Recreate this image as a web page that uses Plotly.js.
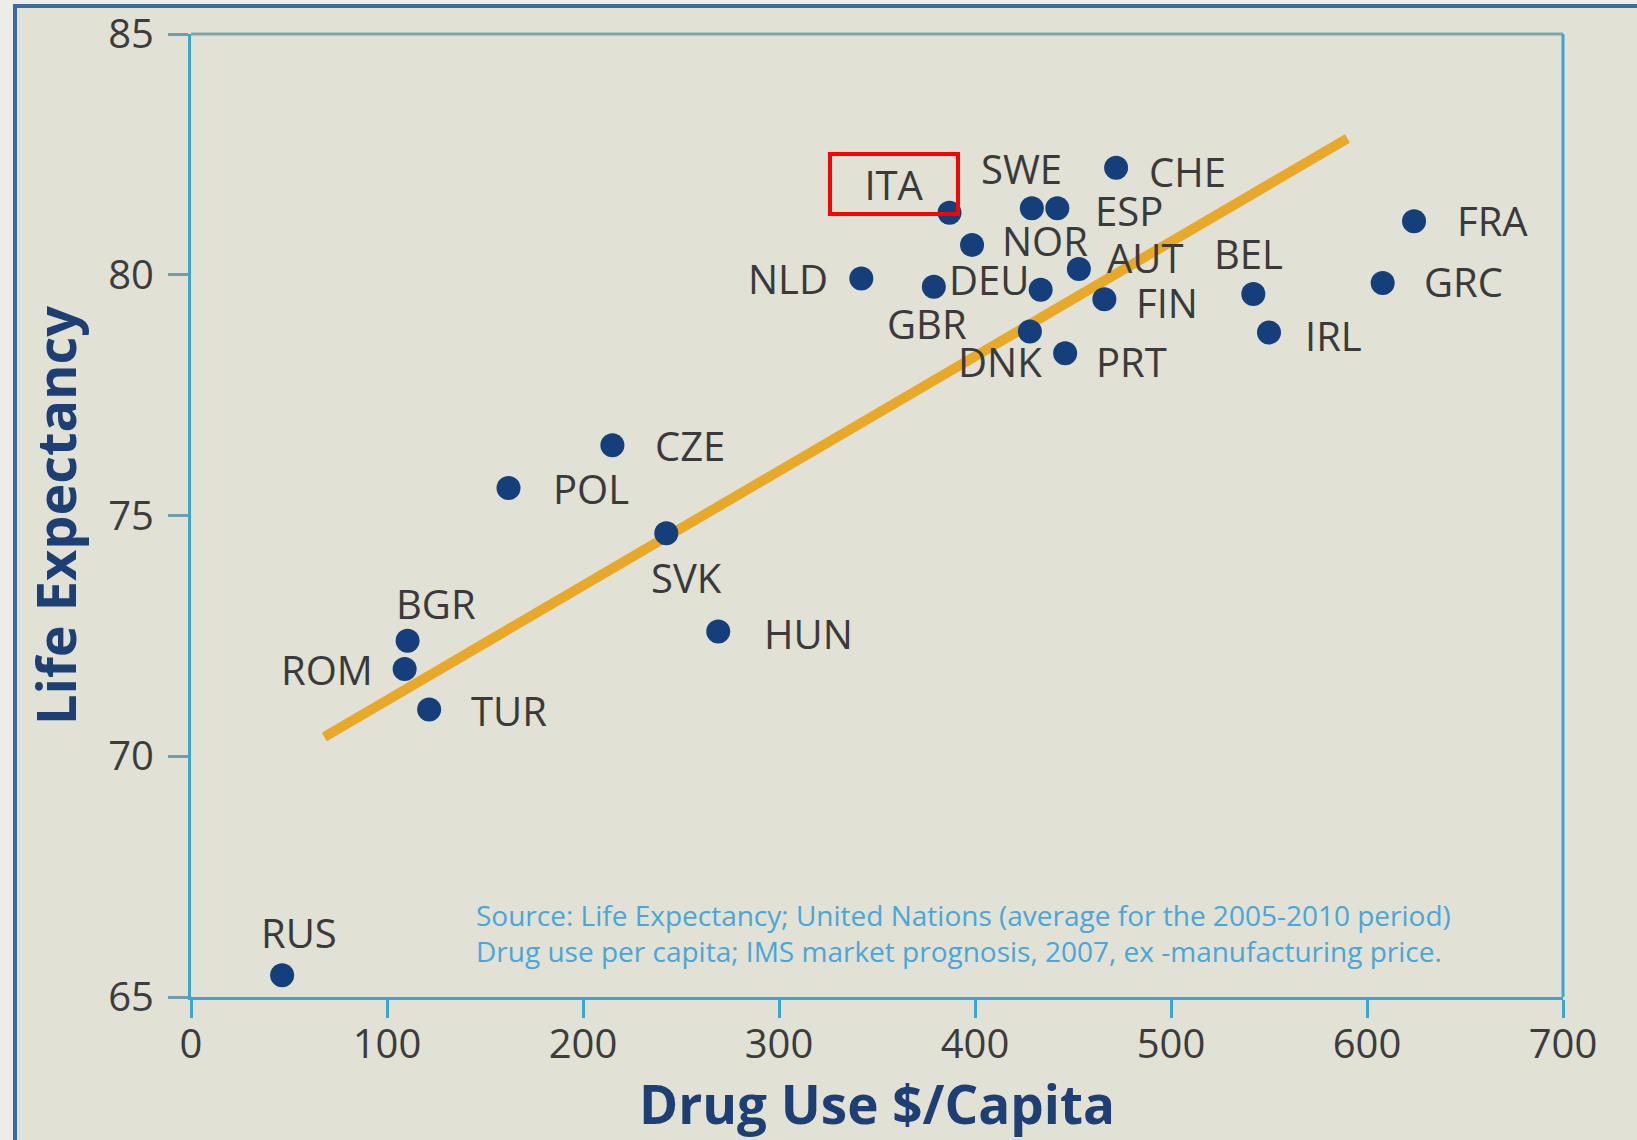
<!DOCTYPE html>
<html>
<head>
<meta charset="utf-8">
<script src="https://cdn.plot.ly/plotly-3.0.1.min.js"></script>
<style>
  html, body { margin: 0; padding: 0; background: #EEECE6; }
  #chart { width: 1637px; height: 1140px; }
</style>
</head>
<body>
<div id="chart"></div>
<script>
// ---- Data ----
const countries = ["ITA","SWE","ESP","CHE","NOR","AUT","NLD","GBR","DEU","FIN","BEL","IRL","DNK","PRT","FRA","GRC","CZE","POL","SVK","HUN","BGR","ROM","TUR","RUS"];
const drugUse   = [387, 429, 442, 472, 398.5, 453, 342, 379, 433.5, 466, 542, 550, 428, 446, 624, 608, 215, 162, 242.5, 269, 110.5, 109, 121.5, 46.5];
const lifeExp   = [81.29, 81.38, 81.38, 82.22, 80.62, 80.12, 79.92, 79.75, 79.69, 79.49, 79.60, 78.80, 78.82, 78.37, 81.11, 79.83, 76.46, 75.57, 74.63, 72.59, 72.40, 71.81, 70.97, 65.45];

// Trend line end points
const trendX = [68, 590];
const trendY = [70.40, 82.83];

// Axis ticks
const xTicks = [0, 100, 200, 300, 400, 500, 600, 700];
const yTicks = [65, 70, 75, 80, 85];

const xTitle = "Drug Use $/Capita";
const yTitle = "Life Expectancy";
const sourceLines = [
  "Source: Life Expectancy; United Nations (average for the 2005-2010 period)",
  "Drug use per capita; IMS market prognosis, 2007, ex -manufacturing price."
];
const highlighted = "ITA";

// ---- Label placement (style: pixel offsets from each dot) ----
const labelDx = [-56, -10, 72, 71, 73, 66, -73, -7, -52, 63, -5, 64, -30, 66, 78, 81, 78, 82, 20, 90, 28, -78, 80, 17];
const labelDy = [-29, -40, 2, 4, -4, -11, 0, 37, -10, 3, -41, 3, 30, 8, -1, -1, 0, 0, 44, 2, -37, 0, 1, -43];

// ---- Styles ----
const FAMILY = "Open Sans, Noto Sans, sans-serif";
const LABEL_FONT = {family: FAMILY, size: 40, color: "#3A3A3A"};
const TICK_FONT = {family: FAMILY, size: 40, color: "#3C3C3C"};
const XTITLE_FONT = {family: FAMILY, size: 53, color: "#1E3F73", weight: 700};
const YTITLE_FONT = {family: FAMILY, size: 54, color: "#1E3F73", weight: 700};
const SOURCE_FONT = {family: FAMILY, size: 28, color: "#4AA6D8"};
const DOT = "#153F7A";
const TREND = "#E8A92A";
const AXIS_BLUE = "#3DA5D6";

// paper-coordinate helpers for the decorative outer frame (plot area is 191..1563 x 34..997 px)
const L = 191, R = 74, T = 34, B = 143;
const pw = 1637 - L - R, ph = 1140 - T - B;
const px = v => (v - L) / pw;
const py = v => (1140 - B - v) / ph;

const traces = [
  {
    x: trendX, y: trendY, mode: "lines", type: "scatter",
    line: {color: TREND, width: 10}, hoverinfo: "skip", showlegend: false
  },
  {
    x: drugUse, y: lifeExp, text: countries, mode: "markers", type: "scatter",
    marker: {color: DOT, size: 24}, showlegend: false,
    hovertemplate: "%{text}<br>%{x} $/capita<br>%{y} years<extra></extra>"
  }
];

const annotations = countries.map((c, i) => {
  const a = {
    x: drugUse[i], y: lifeExp[i], xref: "x", yref: "y", text: c,
    showarrow: false, xanchor: "center", yanchor: "middle",
    xshift: labelDx[i], yshift: -labelDy[i], font: LABEL_FONT
  };
  if (c === highlighted) {
    a.bordercolor = "#FF0000"; a.borderwidth = 4; a.borderpad = 0;
    a.width = 124; a.height = 56;
  }
  return a;
});

// source note
annotations.push({
  xref: "paper", yref: "paper", x: px(474), y: py(933),
  xanchor: "left", yanchor: "middle", align: "left", showarrow: false,
  text: sourceLines.join("<br>"), font: SOURCE_FONT
});

const shapes = [
  // inner panel and blue outer frame
  {type: "rect", xref: "paper", yref: "paper", x0: px(15), x1: px(1700), y0: py(1200), y1: py(6),
   fillcolor: "#E1E1D5", line: {width: 0}, layer: "below"},
  {type: "line", xref: "paper", yref: "paper", x0: px(15), x1: px(15), y0: py(1200), y1: py(4.5),
   line: {color: "#3B6AA0", width: 4}, layer: "below"},
  {type: "line", xref: "paper", yref: "paper", x0: px(13), x1: px(1700), y0: py(6), y1: py(6),
   line: {color: "#3B6AA0", width: 4}, layer: "below"},
  // top and right edge of plot box
  {type: "line", xref: "paper", yref: "paper", x0: 0, x1: 1, y0: 1, y1: 1,
   line: {color: "#7EA6AC", width: 3}},
  {type: "line", xref: "paper", yref: "paper", x0: 1, x1: 1, y0: 0, y1: 1,
   line: {color: AXIS_BLUE, width: 3}}
];

const layout = {
  width: 1637, height: 1140,
  margin: {l: L, r: R, t: T, b: B, pad: 0},
  paper_bgcolor: "#EEECE6",
  plot_bgcolor: "rgba(0,0,0,0)",
  showlegend: false,
  xaxis: {
    range: [0, 700], tickvals: xTicks, ticktext: xTicks.map(String),
    showgrid: false, zeroline: false, showline: true, linecolor: AXIS_BLUE, linewidth: 3,
    ticks: "outside", ticklen: 18, tickwidth: 3, tickcolor: AXIS_BLUE,
    tickfont: TICK_FONT,
    ticklabelstandoff: -8,
    title: {text: xTitle, font: XTITLE_FONT, standoff: 13},
    fixedrange: true
  },
  yaxis: {
    range: [65, 85], tickvals: yTicks, ticktext: yTicks.map(String),
    showgrid: false, zeroline: false, showline: true, linecolor: AXIS_BLUE, linewidth: 3,
    ticks: "outside", ticklen: 20, tickwidth: 3, tickcolor: "#6E9EA8",
    tickfont: TICK_FONT,
    ticklabelstandoff: 6,
    title: {text: yTitle, font: YTITLE_FONT, standoff: 15},
    fixedrange: true
  },
  annotations: annotations,
  shapes: shapes
};

Plotly.newPlot("chart", traces, layout, {displayModeBar: false, responsive: false});
</script>
</body>
</html>
